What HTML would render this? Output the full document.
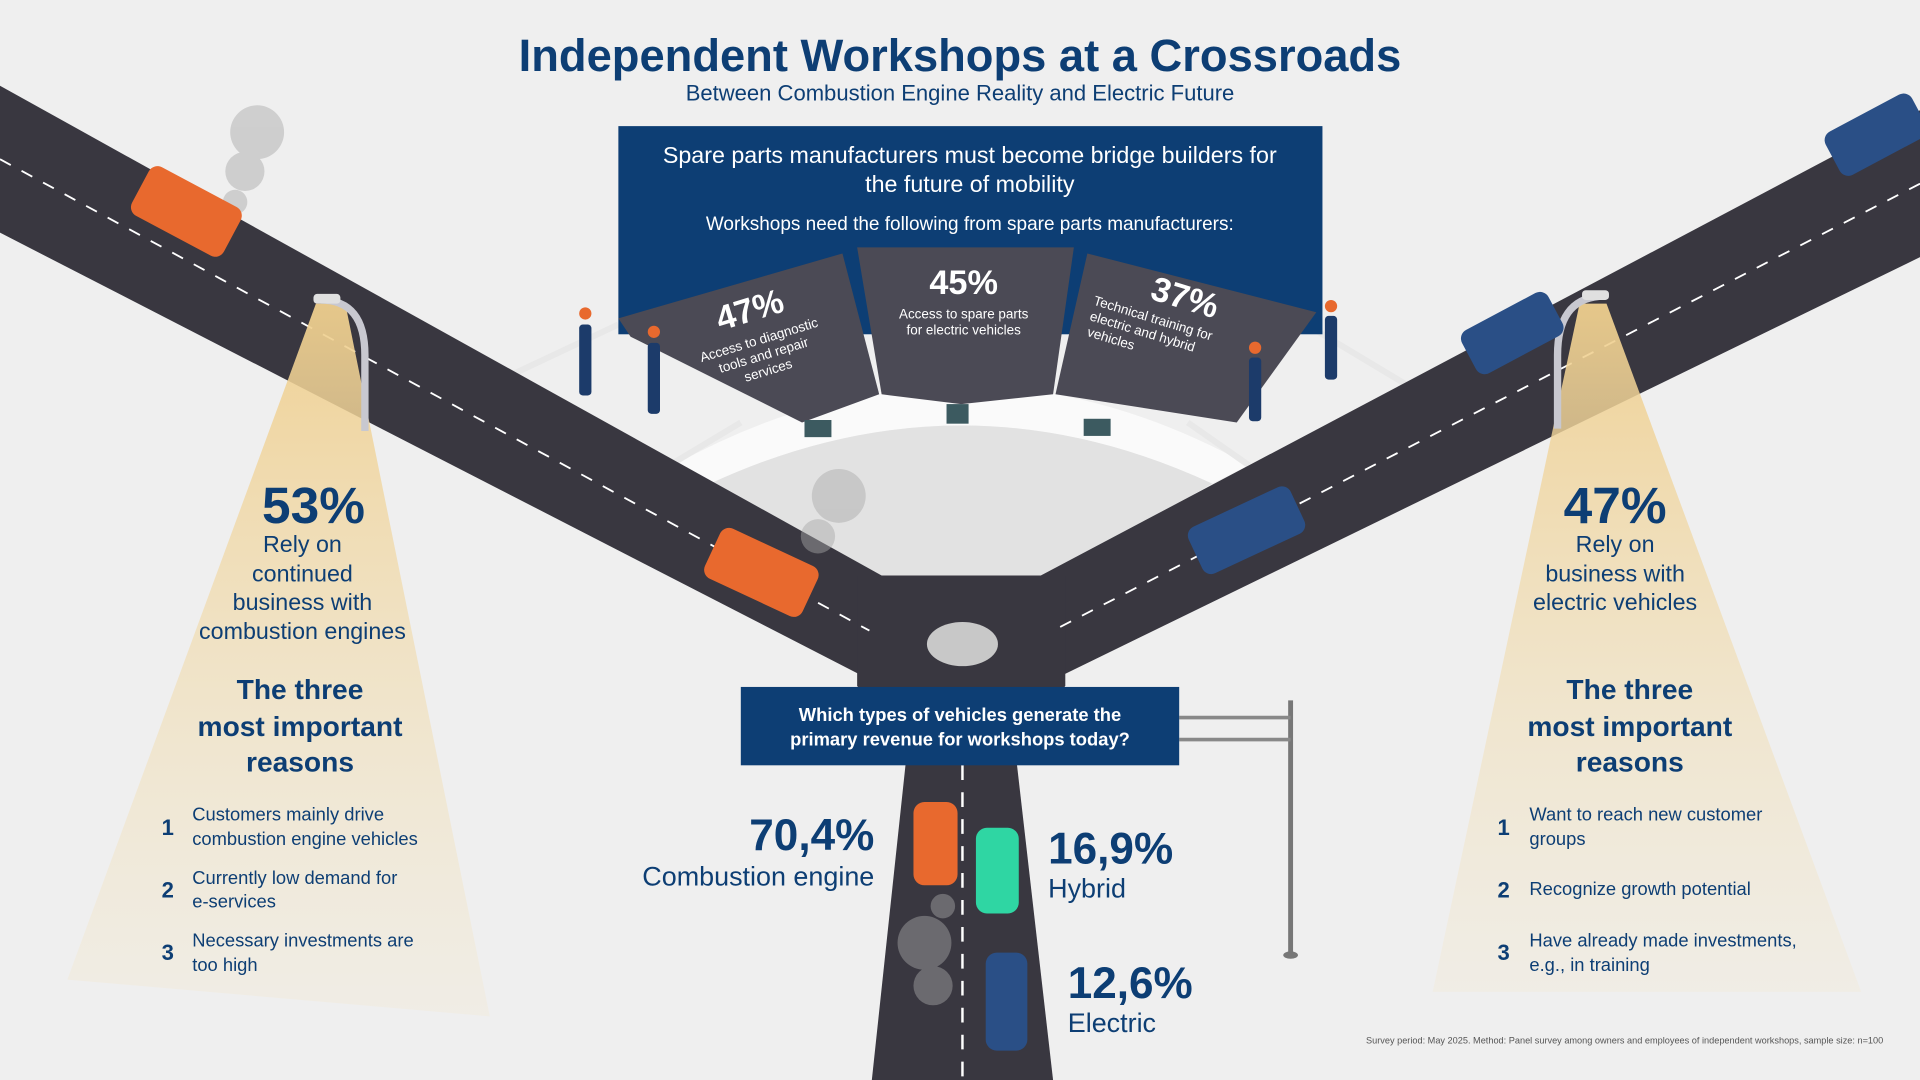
<!DOCTYPE html>
<html><head><meta charset="utf-8"><style>
html,body{margin:0;padding:0;background:#efefef;}
svg{display:block}
text{font-family:"Liberation Sans",sans-serif}
</style></head><body>
<svg width="1920" height="1080" viewBox="0 0 1568 882" xmlns="http://www.w3.org/2000/svg">
<defs>
<linearGradient id="cone" x1="0" y1="0" x2="0" y2="1">
<stop offset="0" stop-color="#efcf8e" stop-opacity="0.95"/>
<stop offset="1" stop-color="#f3e6c8" stop-opacity="0.25"/>
</linearGradient>
</defs>
<rect width="1568" height="882" fill="#efefef"/>
<!-- bridge platform -->
<path d="M550,380 Q785,250 1020,380 L990,395 Q785,300 580,395 Z" fill="#fafafa"/>
<path d="M580,395 Q785,300 990,395 L860,470 L720,470 Z" fill="#e2e2e2"/>
<!-- railings -->
<path d="M420,305 L505,265 M550,378 L605,345 M1150,315 L1075,270 M1020,380 L970,345" stroke="#e8e8e8" stroke-width="5" fill="none"/>
<!-- roads -->
<polygon points="0,70 720,470 720,560 0,190" fill="#393740"/>
<polygon points="1568,90 850,470 850,560 1568,210" fill="#393740"/>
<polygon points="700,470 870,470 870,560 830,625 740,625 700,560" fill="#393740"/>
<polygon points="740,620 830,620 860,882 712,882" fill="#393740"/>
<line x1="0" y1="130" x2="710" y2="515" stroke="#fff" stroke-width="1.5" stroke-dasharray="10,10"/>
<line x1="1568" y1="150" x2="860" y2="515" stroke="#fff" stroke-width="1.5" stroke-dasharray="10,10"/>
<line x1="786" y1="625" x2="786" y2="882" stroke="#fff" stroke-width="2" stroke-dasharray="12,10"/>
<ellipse cx="786" cy="526" rx="29" ry="18" fill="#c8c8c8"/>
<!-- cones -->
<polygon points="258,248 282,248 400,830 55,800" fill="url(#cone)"/>
<polygon points="1290,248 1312,248 1520,810 1170,810" fill="url(#cone)"/>
<!-- lamps -->
<path d="M262,245 Q298,245 298,290 L298,352" stroke="#c8c8d0" stroke-width="6" fill="none"/>
<rect x="256" y="240" width="22" height="8" rx="3" fill="#e0e0e0"/>
<path d="M1306,242 Q1272,245 1272,290 L1272,350" stroke="#c8c8d0" stroke-width="6" fill="none"/>
<rect x="1292" y="237" width="22" height="8" rx="3" fill="#e0e0e0"/>
<!-- header box -->
<rect x="505" y="103" width="575" height="170" fill="#0d3e74"/>
<!-- panels -->
<polygon points="505,260 688,207 718,322 655,345 515,275" fill="#4b4a55"/>
<polygon points="700,202 877,202 860,322 785,330 720,322" fill="#4b4a55"/>
<polygon points="888,207 1075,255 1010,345 862,322" fill="#4b4a55"/>
<rect x="773" y="330" width="18" height="16" fill="#3c5a60"/>
<rect x="657" y="343" width="22" height="14" fill="#3c5a60"/>
<rect x="885" y="342" width="22" height="14" fill="#3c5a60"/>
<!-- signpost -->
<line x1="1054" y1="572" x2="1054" y2="780" stroke="#777" stroke-width="4"/>
<line x1="963" y1="586" x2="1054" y2="586" stroke="#888" stroke-width="3"/>
<line x1="963" y1="604" x2="1054" y2="604" stroke="#888" stroke-width="3"/>
<ellipse cx="1054" cy="780" rx="6" ry="3" fill="#777"/>
<!-- smoke -->
<g fill="#a8a8a8" opacity="0.45"><circle cx="210" cy="108" r="22"/><circle cx="200" cy="140" r="16"/><circle cx="192" cy="165" r="10"/><circle cx="685" cy="405" r="22"/><circle cx="668" cy="438" r="14"/><circle cx="755" cy="770" r="22"/><circle cx="762" cy="805" r="16"/><circle cx="770" cy="740" r="10"/></g>
<!-- cars -->
<g fill="#e8692e"><rect x="110" y="150" width="85" height="45" rx="8" transform="rotate(28 152 172)"/>
<rect x="578" y="445" width="88" height="45" rx="8" transform="rotate(25 622 467)"/></g>
<g fill="#2a4f86"><rect x="1492" y="90" width="80" height="40" rx="8" transform="rotate(-28 1532 110)"/>
<rect x="1195" y="252" width="80" height="40" rx="8" transform="rotate(-28 1235 272)"/>
<rect x="972" y="412" width="92" height="42" rx="8" transform="rotate(-25 1018 433)"/>
<rect x="805" y="778" width="34" height="80" rx="9"/></g>
<rect x="746" y="655" width="36" height="68" rx="9" fill="#e8692e"/>
<rect x="797" y="676" width="35" height="70" rx="9" fill="#2fd6a3"/>
<!-- people -->
<g fill="#1c3b6a"><rect x="473" y="265" width="10" height="58" rx="3"/><rect x="529" y="280" width="10" height="58" rx="3"/><rect x="1020" y="292" width="10" height="52" rx="3"/><rect x="1082" y="258" width="10" height="52" rx="3"/></g>
<g fill="#e8692e"><circle cx="478" cy="256" r="5"/><circle cx="534" cy="271" r="5"/><circle cx="1025" cy="284" r="5"/><circle cx="1087" cy="250" r="5"/></g>
<!-- texts -->
<text x="784" y="58" text-anchor="middle" font-size="37" font-weight="bold" fill="#0d3e74">Independent Workshops at a Crossroads</text>
<text x="784" y="82" text-anchor="middle" font-size="18" fill="#0d3e74">Between Combustion Engine Reality and Electric Future</text>
<text x="792" y="133" text-anchor="middle" font-size="19" fill="#fff">Spare parts manufacturers must become bridge builders for</text>
<text x="792" y="157" text-anchor="middle" font-size="19" fill="#fff">the future of mobility</text>
<text x="792" y="188" text-anchor="middle" font-size="15.5" fill="#fff">Workshops need the following from spare parts manufacturers:</text>
<g fill="#fff" font-weight="bold"><text x="787" y="240" text-anchor="middle" font-size="28">45%</text>
<text x="787" y="260" text-anchor="middle" font-size="11" font-weight="normal">Access to spare parts</text>
<text x="787" y="273" text-anchor="middle" font-size="11" font-weight="normal">for electric vehicles</text>
<g transform="translate(615,262) rotate(-17)"><text text-anchor="middle" font-size="28">47%</text>
<text y="20" text-anchor="middle" font-size="11" font-weight="normal">Access to diagnostic</text>
<text y="33" text-anchor="middle" font-size="11" font-weight="normal">tools and repair</text>
<text y="46" text-anchor="middle" font-size="11" font-weight="normal">services</text></g>
<g transform="translate(965,252) rotate(17)"><text text-anchor="middle" font-size="28">37%</text>
<text x="-20" y="18" text-anchor="middle" font-size="11" font-weight="normal">Technical training for</text>
<text x="-25" y="31" text-anchor="middle" font-size="11" font-weight="normal">electric and hybrid</text>
<text x="-48" y="44" text-anchor="middle" font-size="11" font-weight="normal">vehicles</text></g></g>
<rect x="605" y="561" width="358" height="64" fill="#0d3e74"/>
<text x="784" y="589" text-anchor="middle" font-size="15" font-weight="bold" fill="#fff">Which types of vehicles generate the</text>
<text x="784" y="609" text-anchor="middle" font-size="15" font-weight="bold" fill="#fff">primary revenue for workshops today?</text>
<g fill="#0d3e74">
<text x="714" y="694" text-anchor="end" font-size="36" font-weight="bold">70,4%</text>
<text x="714" y="723" text-anchor="end" font-size="22">Combustion engine</text>
<text x="856" y="705" font-size="36" font-weight="bold">16,9%</text>
<text x="856" y="733" font-size="22">Hybrid</text>
<text x="872" y="815" font-size="36" font-weight="bold">12,6%</text>
<text x="872" y="843" font-size="22">Electric</text>
<text x="256" y="427" text-anchor="middle" font-size="42" font-weight="bold">53%</text>
<g font-size="19" text-anchor="middle"><text x="247" y="451">Rely on</text><text x="247" y="475">continued</text><text x="247" y="498">business with</text><text x="247" y="522">combustion engines</text></g>
<g font-size="23" font-weight="bold" text-anchor="middle"><text x="245" y="571">The three</text><text x="245" y="601">most important</text><text x="245" y="630">reasons</text></g>
<g font-size="15"><text x="132" y="682" font-weight="bold" font-size="18">1</text><text x="157" y="670">Customers mainly drive</text><text x="157" y="690">combustion engine vehicles</text>
<text x="132" y="733" font-weight="bold" font-size="18">2</text><text x="157" y="722">Currently low demand for</text><text x="157" y="741">e-services</text>
<text x="132" y="784" font-weight="bold" font-size="18">3</text><text x="157" y="773">Necessary investments are</text><text x="157" y="793">too high</text></g>
<text x="1319" y="427" text-anchor="middle" font-size="42" font-weight="bold">47%</text>
<g font-size="19" text-anchor="middle"><text x="1319" y="451">Rely on</text><text x="1319" y="475">business with</text><text x="1319" y="498">electric vehicles</text></g>
<g font-size="23" font-weight="bold" text-anchor="middle"><text x="1331" y="571">The three</text><text x="1331" y="601">most important</text><text x="1331" y="630">reasons</text></g>
<g font-size="15"><text x="1223" y="682" font-weight="bold" font-size="18">1</text><text x="1249" y="670">Want to reach new customer</text><text x="1249" y="690">groups</text>
<text x="1223" y="733" font-weight="bold" font-size="18">2</text><text x="1249" y="731">Recognize growth potential</text>
<text x="1223" y="784" font-weight="bold" font-size="18">3</text><text x="1249" y="773">Have already made investments,</text><text x="1249" y="793">e.g., in training</text></g>
<text x="1538" y="852" text-anchor="end" font-size="7.5" fill="#555">Survey period: May 2025. Method: Panel survey among owners and employees of independent workshops, sample size: n=100</text>
</g>
</svg>
</body></html>
